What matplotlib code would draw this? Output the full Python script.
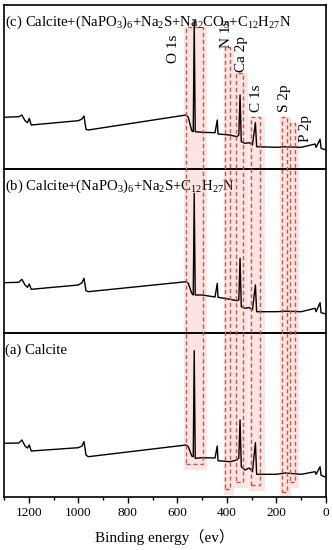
import matplotlib
matplotlib.use("Agg")
import matplotlib.pyplot as plt
from matplotlib.patches import Rectangle
from matplotlib.transforms import blended_transform_factory
from matplotlib.ticker import MultipleLocator

plt.rcParams['font.family'] = ['Liberation Serif', 'Noto Sans CJK SC']
plt.rcParams['mathtext.fontset'] = 'custom'
plt.rcParams['mathtext.rm'] = 'Liberation Serif'
plt.rcParams['mathtext.it'] = 'Liberation Serif:italic'

# ---- data (binding energy in eV, intensity in arbitrary units) ----
energy = [1300, 1240, 1228, 1215, 1205, 1198, 1190, 1000, 985, 977, 969, 960,
          565, 556, 542, 536, 532, 528, 500, 448, 439, 436, 388, 360, 352,
          347, 342, 327, 310, 297, 285, 280, 200, 165, 100, 44, 40, 24, 20, 0]

int_a = [53.7, 54.0, 57.0, 51.0, 49.0, 52.0, 46.0, 49.3, 51.0, 55.3, 42.0, 40.3,
         52.0, 50.3, 41.0, 40.3, 146.3, 38.7, 39.3, 39.0, 51.0, 36.3, 35.3, 37.0, 39.0,
         77.0, 30.3, 27.0, 29.0, 25.3, 54.3, 22.7, 22.7, 24.0, 22.7, 25.3, 22.7, 30.3, 21.7, 19.7]

int_b = [50.3, 50.7, 53.7, 48.0, 45.7, 49.0, 43.7, 48.0, 50.3, 54.7, 42.3, 41.3,
         51.3, 49.7, 39.7, 38.0, 139.7, 38.0, 38.0, 36.0, 49.7, 35.7, 33.7, 32.3, 33.0,
         74.7, 26.3, 24.7, 25.5, 23.0, 48.0, 21.3, 21.3, 21.8, 21.3, 24.7, 21.3, 30.3, 20.3, 19.0]

int_c = [51.7, 52.3, 54.0, 48.3, 46.3, 50.7, 44.0, 48.3, 50.0, 53.0, 39.7, 39.0,
         54.0, 51.7, 38.3, 37.3, 148.3, 37.3, 36.7, 36.3, 49.0, 35.0, 34.0, 32.3, 34.0,
         74.0, 27.3, 25.7, 26.3, 24.0, 46.3, 22.3, 21.7, 22.2, 21.7, 25.0, 21.7, 29.7, 20.7, 19.0]

panel_labels = ['(c) Calcite+(NaPO$_3$)$_6$+Na$_2$S+Na$_2$CO$_3$+C$_{12}$H$_{27}$N',
                '(b) Calcite+(NaPO$_3$)$_6$+Na$_2$S+C$_{12}$H$_{27}$N',
                '(a) Calcite']

peak_names = ['O 1s', 'N 1s', 'Ca 2p', 'C 1s', 'S 2p', 'P 2p']
box_high = [567, 407, 365, 303, 179, 145]
box_low = [498, 388, 334, 266, 159, 125]
label_energy = [614, 402, 340, 280, 166, 81]

xticks = [1200, 1000, 800, 600, 400, 200, 0]

# ---- layout (pixel positions for boxes / labels) ----
W, H = 333, 550
box_top_px = [27, 47, 73, 117, 117, 123]
box_bot_px = [464, 489, 482, 485, 492, 482]
label_bot_px = [63, 48, 72, 112, 112, 142]

fig = plt.figure(figsize=(W / 100, H / 100), dpi=100)
left, right = 4 / W, 326 / W
top_px, bot_px = 5, 497
ph = (bot_px - top_px) / 3
axes = []
for i, (ints, lab) in enumerate(zip([int_c, int_b, int_a], panel_labels)):
    y0 = 1 - (top_px + (i + 1) * ph) / H
    ax = fig.add_axes([left, y0, right - left, ph / H])
    ax.plot(energy, ints, color='black', lw=1.0, zorder=3)
    ax.set_xlim(1300, 0)
    ax.set_ylim(0, 164)
    ax.set_yticks([])
    ax.patch.set_alpha(0)
    for s in ax.spines.values():
        s.set_linewidth(1.2)
    ax.text(0.004, 0.895, lab, transform=ax.transAxes, fontsize=10.6,
            ha='left', va='center', zorder=6)
    if i < 2:
        ax.set_xticks([])
    else:
        ax.set_xticks(xticks)
        ax.xaxis.set_minor_locator(MultipleLocator(100))
        ax.tick_params(axis='x', which='major', direction='out', length=4,
                       width=1, labelsize=9.5, pad=3)
        ax.tick_params(axis='x', which='minor', direction='out', length=2.5, width=1)
        ax.set_xlabel('Binding energy\uff08ev\uff09', fontsize=11, labelpad=7)
    axes.append(ax)

trans = blended_transform_factory(axes[-1].transData, fig.transFigure)
for name, hi, lo, tp, bp, le, lb in zip(peak_names, box_high, box_low, box_top_px,
                                        box_bot_px, label_energy, label_bot_px):
    yt = 1 - tp / H
    yb = 1 - bp / H
    # shaded region
    fill = Rectangle((hi + 6, yb - 6 / H), (lo - 18) - (hi + 6), (yt - yb) + 6 / H,
                     transform=trans, facecolor='#fde4e4', edgecolor='none',
                     zorder=-1)
    fig.add_artist(fill)
    box = Rectangle((hi, yb), lo - hi, yt - yb, transform=trans, facecolor='none',
                    edgecolor='#c8593f', lw=1.0, ls=(0, (3, 2)), zorder=5)
    fig.add_artist(box)
    fig.text(le, 1 - lb / H, name, transform=trans, rotation=90, ha='center',
             va='bottom', fontsize=11, zorder=6)

fig.savefig('out.png', dpi=100)
